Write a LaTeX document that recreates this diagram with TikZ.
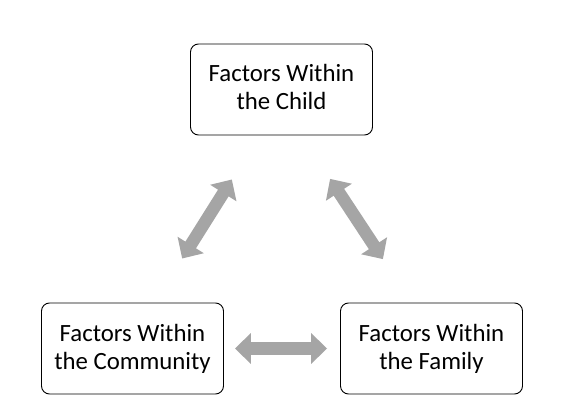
\documentclass[tikz,border=0pt]{standalone}
\usepackage{fontspec}
\setmainfont{Carlito}
\usetikzlibrary{arrows.meta,calc}
\definecolor{arrowgray}{HTML}{A5A5A5}
\begin{document}
\begin{tikzpicture}[x=1pt,y=-1pt,
  factorbox/.style={draw=black, line width=0.9pt, rounded corners=8pt, fill=white,
    minimum width=182pt, minimum height=91pt, align=center, inner sep=0pt,
    text height=47pt, text depth=6pt,
    font=\fontsize{24.8}{28}\selectfont},
  blockarrow/.style={draw=arrowgray, line width=12.5pt,
    {Triangle[width=30pt,length=16pt]}-{Triangle[width=30pt,length=16pt]}}
]
\useasboundingbox (0,0) rectangle (564,419);
\fill[white] (0,0) rectangle (564,419);
\node[factorbox] (child) at (281.5,89.5) {Factors Within\\the Child};
\node[factorbox] (comm) at (132.5,348.5) {Factors Within\\the Community};
\node[factorbox] (fam) at (431.5,348.5) {Factors Within\\the Family};
\draw[blockarrow, shorten <=11pt, shorten >=13pt] (comm.east) -- (fam.west);
\draw[blockarrow, shorten <=52pt, shorten >=52pt] ($(comm.north)+(22,0)$) -- ($(child.south)+(-22,0)$);
\draw[blockarrow, shorten <=52pt, shorten >=52pt] ($(child.south)+(20,0)$) -- ($(fam.north)+(-20,0)$);
\end{tikzpicture}
\end{document}
